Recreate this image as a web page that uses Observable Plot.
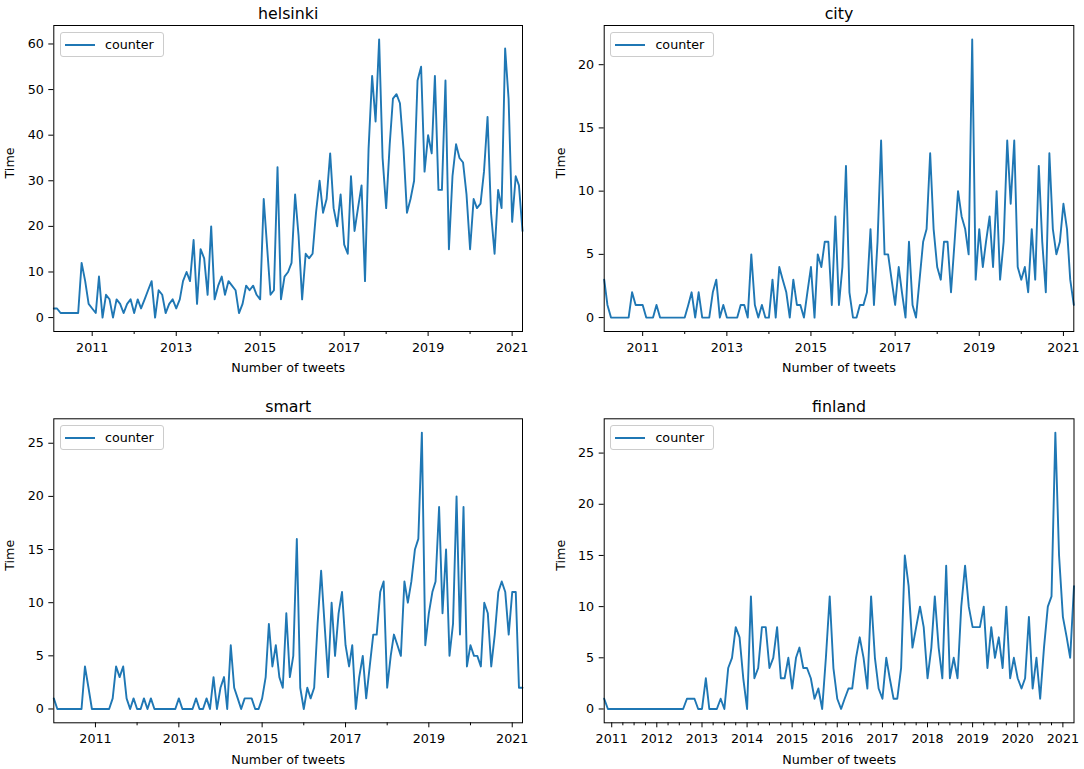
<!DOCTYPE html>
<html><head><meta charset="utf-8">
<script src="https://cdn.jsdelivr.net/npm/d3@7"></script>
<script src="https://cdn.jsdelivr.net/npm/@observablehq/plot@0.6"></script>
<style>
html,body{margin:0;padding:0;background:#fff;}
#root{position:relative;width:1084px;height:769px;overflow:hidden;background:#fff;font-family:"DejaVu Sans",sans-serif;}
.panel{position:absolute;}
.legend{position:absolute;width:104px;height:25px;box-sizing:border-box;border:1px solid #cccccc;border-radius:3px;background:rgba(255,255,255,0.8);}
.legend .swatch{position:absolute;left:4px;top:11px;width:30px;height:2px;background:#1f77b4;}
.legend .lab{position:absolute;left:44px;top:0;line-height:23px;font-size:12.7px;color:#000;font-family:"DejaVu Sans",sans-serif;}
</style></head><body><div id="root"></div>
<script>
// ---- data ----
const titles = ["helsinki", "city", "smart", "finland"];
const helsinkiStart = "2010-02-01";
const helsinki = [2,2,1,1,1,1,1,1,12,8,3,2,
 1,9,0,5,4,0,4,3,1,3,4,1,
 4,2,4,6,8,0,6,5,1,3,4,2,
 4,8,10,8,17,3,15,13,5,20,4,7,
 9,5,8,7,6,1,3,7,6,7,5,4,
 26,16,5,6,33,4,9,10,12,27,18,4,
 14,13,14,23,30,23,26,36,24,20,27,16,
 14,31,19,24,29,8,37,53,43,61,35,24,
 38,48,49,47,37,23,26,30,52,55,32,40,
 36,53,28,28,52,15,31,38,35,34,27,15,
 26,24,25,32,44,23,14,28,24,59,48,21,
 31,29,19];
const cityStart = "2010-02-01";
const city = [3,1,0,0,0,0,0,0,2,1,1,1,
 0,0,0,1,0,0,0,0,0,0,0,0,
 1,2,0,2,0,0,0,2,3,0,1,0,
 0,0,0,1,1,0,5,1,0,1,0,0,
 3,0,4,3,2,0,3,1,1,0,2,4,
 0,5,4,6,6,1,8,1,4,12,2,0,
 0,1,1,2,7,1,6,14,5,5,3,1,
 4,2,0,6,1,0,3,6,7,13,7,4,
 3,6,6,2,6,10,8,7,5,22,3,7,
 4,6,8,4,10,3,6,14,9,14,4,3,
 4,2,7,3,12,6,2,13,7,5,6,9,
 7,3,1];
const smartStart = "2010-01-01";
const smart = [1,0,0,0,0,0,0,0,0,4,2,0,
 0,0,0,0,0,1,4,3,4,1,0,1,
 0,0,1,0,1,0,0,0,0,0,0,0,
 1,0,0,0,0,1,0,0,1,0,3,0,
 2,3,0,6,2,1,0,1,1,1,0,0,
 1,3,8,4,6,3,2,9,3,5,16,2,
 0,2,1,2,8,13,8,3,10,5,9,11,
 6,4,6,0,3,5,1,4,7,7,11,12,
 2,5,7,6,5,12,10,12,15,16,26,6,
 9,11,12,19,9,15,5,8,20,7,19,4,
 6,5,5,4,10,9,4,7,11,12,11,7,
 11,11,2,2];
const finlandStart = "2010-11-01";
const finland = [1,0,0,0,0,0,0,0,0,0,0,0,
 0,0,0,0,0,0,0,0,0,0,1,1,
 1,0,0,3,0,0,0,1,0,4,5,8,
 7,3,0,11,3,4,8,8,4,5,8,3,
 3,5,2,5,6,4,4,3,1,2,0,5,
 11,4,1,0,1,2,2,5,7,5,2,11,
 5,2,1,5,3,1,1,4,15,12,6,8,
 10,8,3,6,11,6,3,14,3,5,3,10,
 14,10,8,8,8,10,4,8,5,7,4,10,
 3,5,3,2,3,9,2,5,1,6,10,11,
 27,15,9,7,5,12];
const helsinkiTicks = [0,10,20,30,40,50,60];
const cityTicks = [0,5,10,15,20];
const smartTicks = [0,5,10,15,20,25];
const finlandTicks = [0,5,10,15,20,25];
const seriesName = "counter";
const yLabel = "Time";
const xLabel = "Number of tweets";

// ---- layout ----
const parse = d3.utcParse("%Y-%m-%d");
const years = d3.range(2010, 2022).map(y => new Date(Date.UTC(y, 0, 1)));
const oddYears = years.filter(d => d.getUTCFullYear() % 2 === 1);
const evenYears = years.filter(d => d.getUTCFullYear() % 2 === 0 && d.getUTCFullYear() > 2010);
const quarters = d3.utcMonth.every(3).range(new Date(Date.UTC(2010,0,1)), new Date(Date.UTC(2021,3,1))).filter(d => d.getUTCMonth() !== 0);

const cfgs = [
  {title: titles[0], start: helsinkiStart, values: helsinki, yTicks: helsinkiTicks, major: oddYears, minor: evenYears,
   left: 0, top: 0, width: 542, height: 385, mL: 53.3, mR: 20, mT: 25, mB: 54, xlabDy: 36},
  {title: titles[1], start: cityStart, values: city, yTicks: cityTicks, major: oddYears, minor: evenYears,
   left: 542, top: 0, width: 542, height: 385, mL: 61.7, mR: 10.7, mT: 25, mB: 54, xlabDy: 36},
  {title: titles[2], start: smartStart, values: smart, yTicks: smartTicks, major: oddYears, minor: evenYears,
   left: 0, top: 385, width: 542, height: 384, mL: 53.3, mR: 20, mT: 33.3, mB: 46.7, xlabDy: 37},
  {title: titles[3], start: finlandStart, values: finland, yTicks: finlandTicks, major: years.filter(d => d.getUTCFullYear() >= 2011), minor: quarters,
   left: 542, top: 385, width: 542, height: 384, mL: 61.7, mR: 10.5, mT: 33.3, mB: 46.7, xlabDy: 37}
];

const root = document.getElementById("root");
for (const c of cfgs) {
  const start = parse(c.start);
  const data = c.values.map((v, i) => ({date: d3.utcMonth.offset(start, i), value: v}));
  const [lo, hi] = d3.extent(c.values);
  const pad = (hi - lo) * 0.05;
  const x0 = data[0].date, x1 = data[data.length - 1].date;
  const minor = c.minor.filter(d => d > x0 && d < x1);
  const major = c.major.filter(d => d >= x0 && d <= x1);
  const chart = Plot.plot({
    width: c.width, height: c.height,
    marginLeft: c.mL, marginRight: c.mR, marginTop: c.mT, marginBottom: c.mB,
    style: {fontFamily: "DejaVu Sans, sans-serif", fontSize: "12.7px", color: "#000", background: "#fff", overflow: "visible"},
    x: {type: "utc", domain: [x0, x1]},
    y: {domain: [lo - pad, hi + pad]},
    marks: [
      Plot.line(data, {x: "date", y: "value", stroke: "#1f77b4", strokeWidth: 1.9}),
      Plot.frame({stroke: "#000", strokeWidth: 1}),
      Plot.axisY({ticks: c.yTicks, tickSize: 5, tickPadding: 5, label: null, anchor: "left", tickFormat: d => String(d)}),
      Plot.axisX({ticks: major, tickSize: 5, tickPadding: 6, label: null, anchor: "bottom", tickFormat: d3.utcFormat("%Y")}),
      Plot.axisX({ticks: minor, tickSize: 3, tickPadding: 6, label: null, anchor: "bottom", tickFormat: () => ""}),
      Plot.text([c.title], {text: d => d, frameAnchor: "top", dy: -7, lineAnchor: "bottom", fontSize: 15.8, fill: "#000"}),
      Plot.text([yLabel], {text: d => d, frameAnchor: "left", dx: -43.5, rotate: -90, fill: "#000"}),
      Plot.text([xLabel], {text: d => d, frameAnchor: "bottom", dy: c.xlabDy, lineAnchor: "middle", fill: "#000"})
    ]
  });
  const wrap = document.createElement("div");
  wrap.className = "panel";
  wrap.style.left = c.left + "px";
  wrap.style.top = c.top + "px";
  wrap.appendChild(chart);
  root.appendChild(wrap);
  const lg = document.createElement("div");
  lg.className = "legend";
  lg.style.left = (c.left + c.mL + 6.7) + "px";
  lg.style.top = (c.top + c.mT + 7) + "px";
  lg.innerHTML = '<div class="swatch"></div><div class="lab"></div>';
  lg.querySelector(".lab").textContent = seriesName;
  root.appendChild(lg);
}
</script></body></html>
